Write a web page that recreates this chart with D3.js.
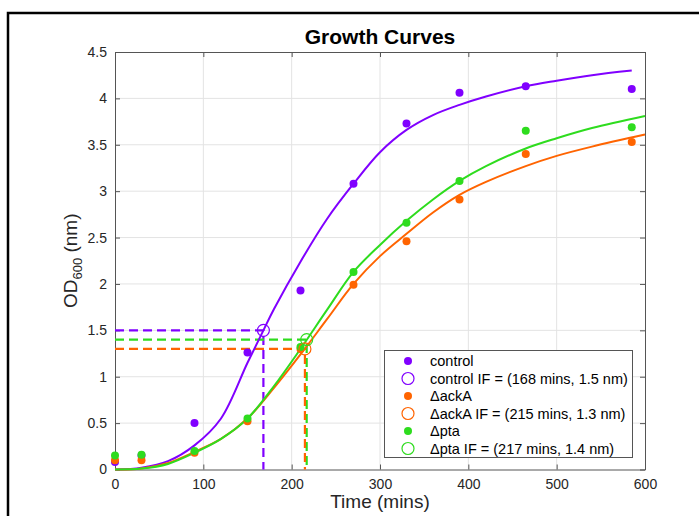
<!DOCTYPE html>
<html>
<head>
<meta charset="utf-8">
<script src="https://cdn.jsdelivr.net/npm/d3@7"></script>
<style>
  body { margin: 0; background: #fff; }
  svg { display: block; font-family: "Liberation Sans", Arial, sans-serif; }
</style>
</head>
<body>
<div id="chart"></div>
<script>
// measured times (mins)
const times = [0, 30, 90, 150, 210, 270, 330, 390, 465, 585];
const controlOD = [0.08, 0.15, 0.50, 1.26, 1.93, 3.08, 3.73, 4.06, 4.13, 4.10];
const ackaOD = [0.10, 0.10, 0.18, 0.52, 1.30, 1.99, 2.46, 2.91, 3.40, 3.53];
const ptaOD = [0.15, 0.16, 0.20, 0.55, 1.32, 2.13, 2.66, 3.11, 3.65, 3.69];

// fitted curves
const controlFitT = [0, 30, 60, 90, 120, 150, 168, 180, 210, 240, 270, 300, 330, 360, 390, 420, 465, 500, 540, 585];
const controlFit = [0, 0.02, 0.09, 0.26, 0.55, 1.15, 1.50, 1.73, 2.24, 2.70, 3.08, 3.42, 3.66, 3.82, 3.93, 4.02, 4.13, 4.19, 4.25, 4.30];
const fitT = [0, 30, 60, 90, 120, 150, 180, 210, 240, 270, 300, 330, 360, 390, 420, 465, 500, 540, 600];
const ackaFit = [0, 0.01, 0.07, 0.19, 0.33, 0.55, 0.88, 1.24, 1.62, 2.00, 2.30, 2.54, 2.77, 2.96, 3.10, 3.27, 3.38, 3.48, 3.61];
const ptaFit = [0, 0.01, 0.06, 0.18, 0.33, 0.55, 0.90, 1.30, 1.72, 2.13, 2.42, 2.68, 2.91, 3.11, 3.27, 3.46, 3.57, 3.68, 3.81];

// inflection points
const ifTimes = [168, 215, 217];
const ifOD = [1.5, 1.3, 1.4];

const xTicks = [0, 100, 200, 300, 400, 500, 600];
const yTicks = [0, 0.5, 1, 1.5, 2, 2.5, 3, 3.5, 4, 4.5];

const colors = { control: '#8000ff', acka: '#ff6400', pta: '#2edc1e' };

const W = 699, H = 516;
const mLeft = 115, mRight = 645, mTop = 52, mBottom = 469.5;

const svg = d3.select('#chart').append('svg')
    .attr('width', W)
    .attr('height', H);

// figure frame
svg.append('path')
    .attr('d', `M8,${H + 5} L8,13 L${W + 5},13`)
    .attr('fill', 'none')
    .attr('stroke', '#000')
    .attr('stroke-width', 2.5);

const x = d3.scaleLinear().domain([0, 600]).range([mLeft, mRight]);
const y = d3.scaleLinear().domain([0, 4.5]).range([mBottom, mTop]);

// grid
svg.append('g').selectAll('line')
    .data(xTicks.slice(1, -1))
    .join('line')
    .attr('x1', d => x(d)).attr('x2', d => x(d))
    .attr('y1', mTop).attr('y2', mBottom)
    .attr('stroke', '#e3e3e3');
svg.append('g').selectAll('line')
    .data(yTicks.slice(1, -1))
    .join('line')
    .attr('x1', mLeft).attr('x2', mRight)
    .attr('y1', d => y(d)).attr('y2', d => y(d))
    .attr('stroke', '#e3e3e3');

// axes (box, ticks inside)
const axisColor = '#262626';
const styleAxis = g => {
    g.select('.domain').attr('stroke', '#555');
    g.selectAll('.tick line').attr('stroke', '#555');
    g.selectAll('.tick text').attr('fill', axisColor).style('font-size', '14px');
};
svg.append('g')
    .attr('transform', `translate(0,${mBottom})`)
    .call(d3.axisBottom(x).tickValues(xTicks).tickSizeInner(-5).tickSizeOuter(0).tickPadding(10))
    .call(styleAxis);
svg.append('g')
    .attr('transform', `translate(0,${mTop})`)
    .call(d3.axisTop(x).tickValues(xTicks).tickSizeInner(-5).tickSizeOuter(0).tickFormat(''))
    .call(styleAxis);
svg.append('g')
    .attr('transform', `translate(${mLeft},0)`)
    .call(d3.axisLeft(y).tickValues(yTicks).tickSizeInner(-5).tickSizeOuter(0).tickPadding(8).tickFormat(d3.format('')))
    .call(styleAxis);
svg.append('g')
    .attr('transform', `translate(${mRight},0)`)
    .call(d3.axisRight(y).tickValues(yTicks).tickSizeInner(-5).tickSizeOuter(0).tickFormat(''))
    .call(styleAxis);

const plot = svg.append('g');

// dashed inflection guides
const guideOrder = [
    { i: 0, c: colors.control },
    { i: 2, c: colors.pta },
    { i: 1, c: colors.acka }
];
guideOrder.forEach(({ i, c }) => {
    plot.append('path')
        .attr('d', `M${x(0)},${y(ifOD[i])} L${x(ifTimes[i])},${y(ifOD[i])} L${x(ifTimes[i])},${y(0)}`)
        .attr('fill', 'none')
        .attr('stroke', c)
        .attr('stroke-width', 2.2)
        .attr('stroke-dasharray', '9,5');
});

// fitted curves
const line = d3.line()
    .x(d => x(d[0]))
    .y(d => y(d[1]))
    .curve(d3.curveCatmullRom.alpha(0.5));

const fits = [
    { t: controlFitT, v: controlFit, c: colors.control },
    { t: fitT, v: ackaFit, c: colors.acka },
    { t: fitT, v: ptaFit, c: colors.pta }
];
fits.forEach(f => {
    plot.append('path')
        .datum(d3.zip(f.t, f.v))
        .attr('d', line)
        .attr('fill', 'none')
        .attr('stroke', f.c)
        .attr('stroke-width', 2);
});

// data points
const series = [
    { v: controlOD, c: colors.control },
    { v: ackaOD, c: colors.acka },
    { v: ptaOD, c: colors.pta }
];
series.forEach(s => {
    plot.append('g').selectAll('circle')
        .data(d3.zip(times, s.v))
        .join('circle')
        .attr('cx', d => x(d[0]))
        .attr('cy', d => y(d[1]))
        .attr('r', 4)
        .attr('fill', s.c);
});

// inflection markers
const ifColors = [colors.control, colors.acka, colors.pta];
plot.append('g').selectAll('circle')
    .data(d3.range(3))
    .join('circle')
    .attr('cx', i => x(ifTimes[i]))
    .attr('cy', i => y(ifOD[i]))
    .attr('r', 6)
    .attr('fill', 'none')
    .attr('stroke', i => ifColors[i])
    .attr('stroke-width', 1.2);

// title and labels
svg.append('text')
    .attr('x', (mLeft + mRight) / 2)
    .attr('y', 44)
    .attr('text-anchor', 'middle')
    .style('font-size', '21px')
    .style('font-weight', 'bold')
    .attr('fill', '#000')
    .text('Growth Curves');

svg.append('text')
    .attr('x', (mLeft + mRight) / 2)
    .attr('y', 508)
    .attr('text-anchor', 'middle')
    .style('font-size', '19px')
    .attr('fill', axisColor)
    .text('Time (mins)');

const ylab = svg.append('text')
    .attr('transform', `translate(77,${(mTop + mBottom) / 2}) rotate(-90)`)
    .attr('text-anchor', 'middle')
    .style('font-size', '19px')
    .attr('fill', axisColor);
ylab.append('tspan').text('OD');
ylab.append('tspan').attr('dy', 5).style('font-size', '13px').text('600');
ylab.append('tspan').attr('dy', -5).text(' (nm)');

// legend
const legendItems = [
    { label: 'control', c: colors.control, open: false },
    { label: `control IF = (${ifTimes[0]} mins, ${ifOD[0]} nm)`, c: colors.control, open: true },
    { label: '\u0394ackA', c: colors.acka, open: false },
    { label: `\u0394ackA IF = (${ifTimes[1]} mins, ${ifOD[1]} nm)`, c: colors.acka, open: true },
    { label: '\u0394pta', c: colors.pta, open: false },
    { label: `\u0394pta IF = (${ifTimes[2]} mins, ${ifOD[2]} nm)`, c: colors.pta, open: true }
];
const lg = svg.append('g');
lg.append('rect')
    .attr('x', 384.5).attr('y', 350.5)
    .attr('width', 248).attr('height', 107)
    .attr('fill', '#fff')
    .attr('stroke', '#555');
const rows = lg.selectAll('g.row')
    .data(legendItems)
    .join('g')
    .attr('class', 'row')
    .attr('transform', (d, i) => `translate(408,${361 + i * 17.5})`);
rows.append('circle')
    .attr('r', d => d.open ? 6 : 4)
    .attr('fill', d => d.open ? 'none' : d.c)
    .attr('stroke', d => d.open ? d.c : 'none')
    .attr('stroke-width', 1.2);
rows.append('text')
    .attr('x', 22)
    .attr('dy', '0.35em')
    .style('font-size', '14.5px')
    .attr('fill', '#000')
    .text(d => d.label);
</script>
</body>
</html>
